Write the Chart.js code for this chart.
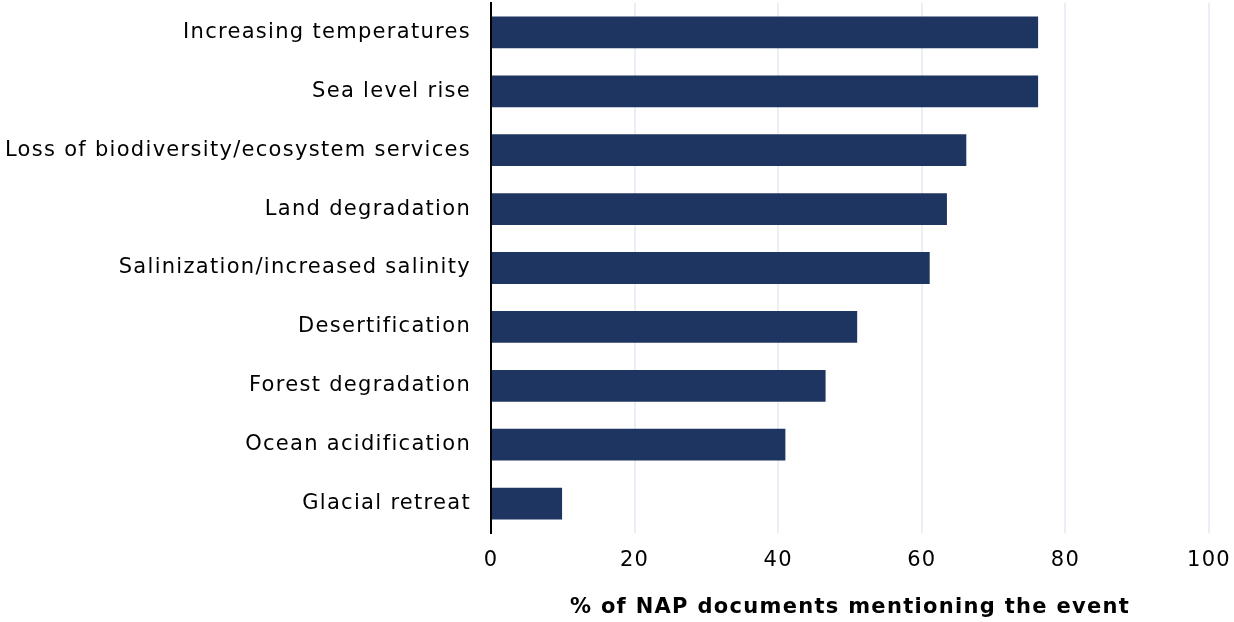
<!DOCTYPE html>
<html lang="en">
<head>
    <meta charset="UTF-8" />
    <title>Slow onset events in NAPs</title>
    <style>
        html, body {
            margin: 0;
            padding: 0;
            background: #ffffff;
        }
        .chart-box {
            width: 1234px;
            height: 622px;
        }
    </style>
    <script src="https://cdn.jsdelivr.net/npm/chart.js"></script>
</head>
<body>
    <div class="chart-box">
        <canvas id="events-chart"></canvas>
    </div>
    <script>
        const events = [
            'Increasing temperatures',
            'Sea level rise',
            'Loss of biodiversity/ecosystem services',
            'Land degradation',
            'Salinization/increased salinity',
            'Desertification',
            'Forest degradation',
            'Ocean acidification',
            'Glacial retreat'
        ];
        const sharePct = [76.2, 76.2, 66.2, 63.5, 61.1, 51.0, 46.6, 41.0, 9.9];
        const xTicks = [0, 20, 40, 60, 80, 100];
        const xTitle = '% of NAP documents mentioning the event';

        const fontFamily = "'DejaVu Sans', sans-serif";

        // the original font is wider than anything installed, so space the letters a bit
        const letterSpacing = {
            id: 'letterSpacing',
            beforeLayout(chart) { chart.ctx.letterSpacing = '1.3px'; },
            beforeDraw(chart) { chart.ctx.letterSpacing = '1.3px'; }
        };

        new Chart(document.getElementById('events-chart'), {
            type: 'bar',
            data: {
                labels: events,
                datasets: [{
                    data: sharePct,
                    backgroundColor: '#1f3561',
                    borderWidth: 0,
                    barPercentage: 0.54,
                    categoryPercentage: 1
                }]
            },
            plugins: [letterSpacing],
            options: {
                indexAxis: 'y',
                responsive: true,
                maintainAspectRatio: false,
                animation: false,
                layout: {
                    padding: { top: 3, right: 25, bottom: 0, left: 0 }
                },
                plugins: {
                    legend: { display: false },
                    tooltip: { enabled: false }
                },
                scales: {
                    x: {
                        min: 0,
                        max: 100,
                        afterBuildTicks: scale => {
                            scale.ticks = xTicks.map(v => ({ value: v }));
                        },
                        afterFit: scale => {
                            scale.height = 89;
                            scale.paddingLeft = 0;
                            scale.paddingRight = 0;
                        },
                        grid: {
                            color: '#e9eef8',
                            lineWidth: 2,
                            drawTicks: false
                        },
                        border: { display: false },
                        ticks: {
                            color: '#000000',
                            padding: 15,
                            font: { family: fontFamily, size: 21 }
                        },
                        title: {
                            display: true,
                            text: xTitle,
                            color: '#000000',
                            padding: { top: 13, bottom: 2 },
                            font: { family: fontFamily, size: 21, weight: 'bold' }
                        }
                    },
                    y: {
                        afterFit: scale => {
                            // keep the axis line where the reference has it
                            scale.width = 491;
                            scale.paddingTop = 0;
                            scale.paddingBottom = 0;
                        },
                        grid: { display: false, drawTicks: false },
                        border: { display: true, color: '#000000', width: 2 },
                        ticks: {
                            color: '#000000',
                            padding: 20,
                            font: { family: fontFamily, size: 21 }
                        }
                    }
                }
            }
        });
    </script>
</body>
</html>
